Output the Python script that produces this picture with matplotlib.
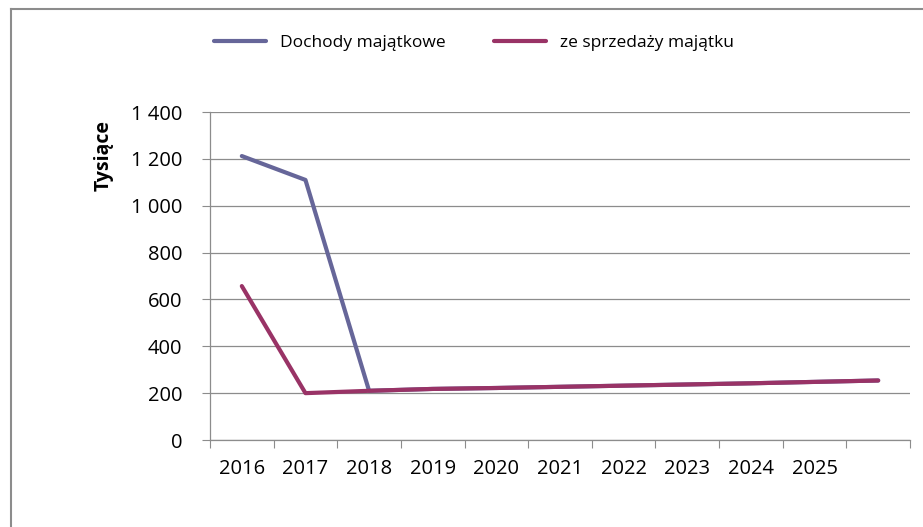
import matplotlib.pyplot as plt
from matplotlib.lines import Line2D
from matplotlib.ticker import FuncFormatter

years = ['2016', '2017', '2018', '2019', '2020', '2021', '2022', '2023', '2024', '2025', '']
dochody = [1212, 1110, 210, 218, 222, 227, 232, 237, 242, 248, 254]
sprzedaz = [657, 200, 210, 218, 222, 227, 232, 237, 242, 248, 254]

plt.rcParams['font.family'] = ['Open Sans', 'DejaVu Sans']

fig = plt.figure(figsize=(9.23, 5.27), dpi=100)
ax = fig.add_axes([210 / 923, 1 - 440 / 527, 700 / 923, 328 / 527])

x = list(range(len(years)))
ax.plot(x, dochody, color='#666699', lw=3, solid_capstyle='round', label='Dochody majątkowe', zorder=3)
ax.plot(x, sprzedaz, color='#993366', lw=3, solid_capstyle='round', label='ze sprzedaży majątku', zorder=4)

ax.set_xlim(-0.5, len(years) - 0.5)
ax.set_ylim(0, 1400)
ax.set_yticks(range(0, 1401, 200))
ax.yaxis.set_major_formatter(FuncFormatter(lambda v, p: f'{int(v):,}'.replace(',', ' ')))
ax.grid(axis='y', color='#8c8c8c', lw=0.9)
ax.set_axisbelow(True)

# ticks on category boundaries, labels in the middle
ax.set_xticks([i - 0.5 for i in range(len(years) + 1)])
ax.set_xticklabels([])
ax.set_xticks(x, minor=True)
ax.set_xticklabels(years, minor=True)
ax.tick_params(axis='x', which='major', length=6, color='#8c8c8c', direction='out')
ax.tick_params(axis='x', which='minor', length=0, pad=14, labelsize=14.5)
ax.tick_params(axis='y', length=6, color='#8c8c8c', pad=14, labelsize=14.5)

for s in ['top', 'right']:
    ax.spines[s].set_visible(False)
for s in ['left', 'bottom']:
    ax.spines[s].set_color('#8c8c8c')
    ax.spines[s].set_linewidth(0.9)

fig.text(104 / 923, 1 - 155 / 527, 'Tysiące', rotation=90, fontsize=14, fontweight='bold',
         ha='center', va='center')

ax.legend(loc='center', bbox_to_anchor=(474 / 923, 1 - 43 / 527), bbox_transform=fig.transFigure,
          ncol=2, frameon=False, fontsize=12.5, handlelength=3.0, handletextpad=0.8, columnspacing=2.8)

# chart area border (only top and left visible)
fig.add_artist(Line2D([11 / 923, 1], [1 - 9 / 527, 1 - 9 / 527], color='#8c8c8c', lw=1.5,
                      transform=fig.transFigure))
fig.add_artist(Line2D([11 / 923, 11 / 923], [0, 1 - 9 / 527], color='#8c8c8c', lw=1.5,
                      transform=fig.transFigure))

fig.savefig('out.png', dpi=100)
